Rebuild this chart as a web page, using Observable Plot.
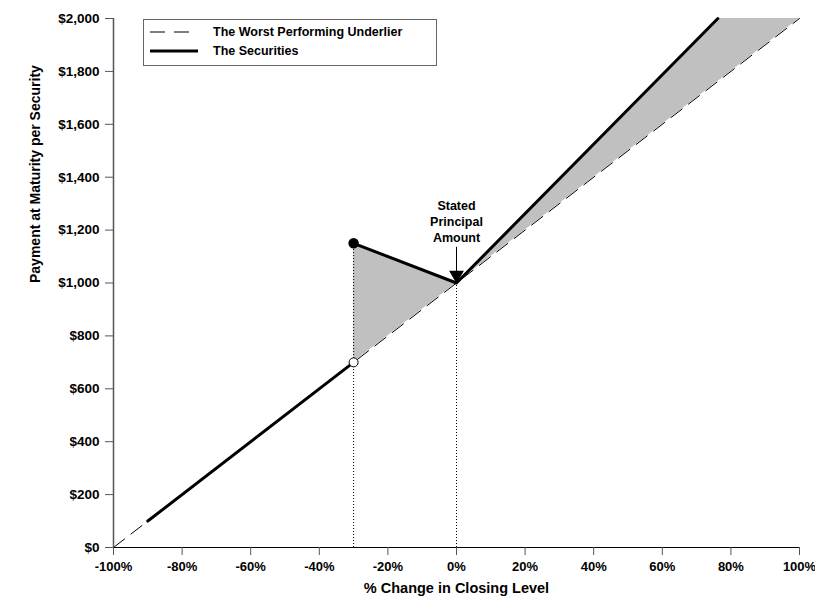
<!DOCTYPE html>
<html>
<head>
<meta charset="utf-8">
<script src="https://cdn.jsdelivr.net/npm/d3@7"></script>
<script src="https://cdn.jsdelivr.net/npm/@observablehq/plot@0.6"></script>
<style>
  body { margin: 0; background: #fff; font-family: "Liberation Sans", Arial, sans-serif; }
  #wrap { position: relative; width: 815px; height: 612px; }
  #legend { position: absolute; left: 143px; top: 19px; width: 292px; height: 45px; border: 1px solid #666; background: #fff; font-weight: bold; font-size: 12.5px; }
  #legend .row { position: absolute; left: 6px; height: 18px; display: flex; align-items: center; }
  #legend svg { width: 48px; height: 6px; margin-right: 15px; }
</style>
</head>
<body>
<div id="wrap">
  <div id="chart"></div>
  <div id="legend">
    <div class="row" style="top:3px"><svg><line x1="0" y1="3" x2="48" y2="3" stroke="#000" stroke-width="1" stroke-dasharray="15,9"/></svg><span>The Worst Performing Underlier</span></div>
    <div class="row" style="top:22px"><svg><line x1="0" y1="3" x2="48" y2="3" stroke="#000" stroke-width="3"/></svg><span>The Securities</span></div>
  </div>
</div>
<script>
// Underlier (dashed): % change vs payment
const underX = [-100, 100];
const underY = [0, 2000];
// Securities: below barrier segment
const secLowX = [-90, -30];
const secLowY = [100, 700];
// Securities: absolute return + upside segment
const secHighX = [-30, 0, 76.2];
const secHighY = [1150, 1000, 2000];
// Shaded region between securities and underlier
const shadeX = [-30, 0, 76.2, 100];
const shadeLow = [700, 1000, 1762, 2000];
const shadeHigh = [1150, 1000, 2000, 2000];
// Markers
const openDot = {x: -30, y: 700};
const filledDot = {x: -30, y: 1150};
const guideX = [-30, 0];
const guideTop = [1150, 1000];
const principalX = 0;
const principalY = 1000;
const arrowTopY = 1135;
const principalLabel = "Stated\nPrincipal\nAmount";
// Ticks
const xTicks = [-100, -80, -60, -40, -20, 0, 20, 40, 60, 80, 100];
const yTicks = [0, 200, 400, 600, 800, 1000, 1200, 1400, 1600, 1800, 2000];

const under = underX.map((x, i) => ({x, y: underY[i]}));
const secLow = secLowX.map((x, i) => ({x, y: secLowY[i]}));
const secHigh = secHighX.map((x, i) => ({x, y: secHighY[i]}));
const shade = shadeX.map((x, i) => ({x, y1: shadeLow[i], y2: shadeHigh[i]}));
const guides = guideX.map((x, i) => ({x, y: guideTop[i]}));

const chart = Plot.plot({
  width: 815,
  height: 612,
  marginLeft: 113,
  marginRight: 16,
  marginTop: 18,
  marginBottom: 65,
  style: {fontFamily: "'Liberation Sans', Arial, sans-serif", fontWeight: "bold", fontSize: "13px", background: "#fff"},
  x: {domain: [-100, 100]},
  y: {domain: [0, 2000]},
  marks: [
    Plot.areaY(shade, {x: "x", y1: "y1", y2: "y2", fill: "#c0c0c0"}),
    Plot.ruleX(guides, {x: "x", y1: 0, y2: "y", stroke: "#000", strokeWidth: 1, strokeDasharray: "1,2"}),
    Plot.line(under, {x: "x", y: "y", stroke: "#000", strokeWidth: 1, strokeDasharray: "14,8"}),
    Plot.line(secLow, {x: "x", y: "y", stroke: "#000", strokeWidth: 3}),
    Plot.line(secHigh, {x: "x", y: "y", stroke: "#000", strokeWidth: 3}),
    Plot.dot([openDot], {x: "x", y: "y", r: 4.5, fill: "#fff", stroke: "#000", strokeWidth: 1}),
    Plot.dot([filledDot], {x: "x", y: "y", r: 4.5, fill: "#000", stroke: "#000"}),
    Plot.ruleX([principalX], {y1: arrowTopY, y2: principalY + 40, stroke: "#000", strokeWidth: 1}),
    Plot.dot([{x: principalX, y: principalY}], {x: "x", y: "y", symbol: "triangle", rotate: 180, r: 5.5, fill: "#000", dy: -8}),
    Plot.text([{x: principalX, y: arrowTopY}], {x: "x", y: "y", text: () => principalLabel, lineAnchor: "bottom", dy: -5, lineHeight: 1.3, fontSize: 12.5, fontWeight: "bold", fill: "#000"}),
    Plot.ruleY([0], {stroke: "#000", strokeWidth: 1}),
    Plot.ruleX([-100], {stroke: "#555", strokeWidth: 1.5}),
    Plot.axisX({ticks: xTicks, tickFormat: d => d + "%", tickSize: 8, tickPadding: 6, stroke: "#555", label: null, fontSize: 13}),
    Plot.axisY({ticks: yTicks, tickFormat: d => "$" + d3.format(",")(d), tickSize: 8, tickPadding: 6, stroke: "#555", label: null, fontSize: 13.5}),
    Plot.text(["Payment at Maturity per Security"], {frameAnchor: "left", dx: -78, rotate: -90, fontSize: 14, fontWeight: "bold", fill: "#000"}),
    Plot.text(["% Change in Closing Level"], {frameAnchor: "bottom", dy: 45, fontSize: 14.5, fontWeight: "bold", fill: "#000"})
  ]
});
document.getElementById("chart").appendChild(chart);
</script>
</body>
</html>
